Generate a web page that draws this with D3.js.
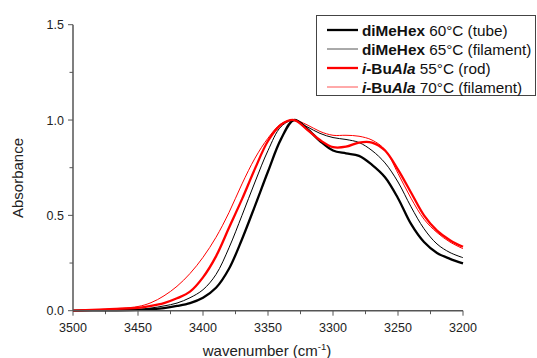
<!DOCTYPE html>
<html><head><meta charset="utf-8">
<script src="https://cdn.jsdelivr.net/npm/d3@7"></script>
<style>body{margin:0;background:#fff}svg{display:block;font-family:"Liberation Sans",Arial,sans-serif}</style>
</head><body><svg id="c" width="537" height="358"></svg>
<script>
const wavenumbers = [3500,3475,3450,3440,3430,3420,3410,3400,3390,3380,3370,3360,3350,3340,3330,3320,3310,3300,3290,3280,3270,3260,3250,3240,3230,3220,3210,3200];
const diMeHex60 = [0,0.002,0.004,0.008,0.014,0.025,0.04,0.068,0.12,0.22,0.375,0.55,0.73,0.9,1.0,0.955,0.89,0.84,0.825,0.812,0.765,0.70,0.59,0.455,0.36,0.303,0.272,0.248];
const diMeHex65 = [0,0.003,0.007,0.014,0.025,0.04,0.068,0.11,0.19,0.33,0.50,0.675,0.84,0.965,1.0,0.965,0.93,0.908,0.898,0.882,0.84,0.775,0.675,0.545,0.43,0.35,0.305,0.278];
const iBuAla55 = [0,0.007,0.015,0.025,0.04,0.065,0.10,0.175,0.285,0.435,0.585,0.745,0.89,0.975,1.0,0.95,0.895,0.858,0.86,0.882,0.882,0.84,0.74,0.62,0.50,0.42,0.37,0.335];
const iBuAla70 = [0,0.008,0.022,0.042,0.078,0.128,0.195,0.28,0.385,0.515,0.665,0.80,0.905,0.98,1.0,0.975,0.94,0.92,0.92,0.915,0.895,0.845,0.72,0.59,0.48,0.41,0.36,0.325];
const xTicks = [3500,3450,3400,3350,3300,3250,3200];
const yTicks = [0.0,0.5,1.0,1.5];

const series = [
  {vals: diMeHex60, color:"#000", w:2.3, name:[["diMeHex","bold",""],[" 60°C (tube)","normal",""]]},
  {vals: diMeHex65, color:"#000", w:1, lcolor:"#555", name:[["diMeHex","bold",""],[" 65°C (filament)","normal",""]]},
  {vals: iBuAla55, color:"#f00", w:2.3, name:[["i","bold","italic"],["-Bu","bold",""],["Ala","bold","italic"],[" 55°C (rod)","normal",""]]},
  {vals: iBuAla70, color:"#f00", w:1, lcolor:"#f55", name:[["i","bold","italic"],["-Bu","bold",""],["Ala","bold","italic"],[" 70°C (filament)","normal",""]]}
];

const svg = d3.select("#c");
const x = d3.scaleLinear().domain([3500,3200]).range([73,463]);
const y = d3.scaleLinear().domain([0,1.5]).range([310.7,24.7]);
const axCol = "#555";
const txtCol = "#222";

const xMinor = d3.range(3475,3200,-50);
const yMinor = [0.25,0.75,1.25];

const xa = svg.append("g").attr("transform","translate(0,310.7)");
xa.selectAll("line.mi").data(xMinor).join("line").attr("class","mi").attr("x1",d=>x(d)).attr("x2",d=>x(d)).attr("y1",0).attr("y2",3.5).attr("stroke",axCol);
xa.selectAll("line.ma").data(xTicks).join("line").attr("class","ma").attr("x1",d=>x(d)).attr("x2",d=>x(d)).attr("y1",0).attr("y2",5).attr("stroke",axCol);
xa.selectAll("text").data(xTicks).join("text").attr("x",d=>x(d)).attr("y",21).attr("text-anchor","middle").attr("font-size",12.5).attr("fill",txtCol).text(d=>d);

const ya = svg.append("g").attr("transform","translate(73,0)");
ya.selectAll("line.mi").data(yMinor).join("line").attr("class","mi").attr("y1",d=>y(d)).attr("y2",d=>y(d)).attr("x1",0).attr("x2",-3.5).attr("stroke",axCol);
ya.selectAll("line.ma").data(yTicks).join("line").attr("class","ma").attr("y1",d=>y(d)).attr("y2",d=>y(d)).attr("x1",0).attr("x2",-5).attr("stroke",axCol);
ya.selectAll("text").data(yTicks).join("text").attr("x",-9).attr("y",d=>y(d)+4.5).attr("text-anchor","end").attr("font-size",12.5).attr("fill",txtCol).text(d=>d.toFixed(1));

const line = d3.line().x((d,i)=>x(wavenumbers[i])).y(d=>y(d)).curve(d3.curveCatmullRom.alpha(0.5));
[1,3,0,2].forEach(k=>{
  const s = series[k];
  svg.append("path").attr("d",line(s.vals)).attr("fill","none").attr("stroke",s.color).attr("stroke-width",s.w).attr("stroke-linejoin","round");
});

svg.append("line").attr("x1",73).attr("x2",463).attr("y1",310.7).attr("y2",310.7).attr("stroke",axCol).attr("stroke-width",1.5);
svg.append("line").attr("x1",73).attr("x2",73).attr("y1",24.7).attr("y2",310.7).attr("stroke",axCol).attr("stroke-width",1.5);

svg.append("text").attr("transform","translate(23,178) rotate(-90)").attr("text-anchor","middle").attr("font-size",15).attr("fill",txtCol).text("Absorbance");
const xt = svg.append("text").attr("x",267).attr("y",356).attr("text-anchor","middle").attr("font-size",15).attr("fill",txtCol);
xt.append("tspan").text("wavenumber (cm");
xt.append("tspan").attr("font-size",9.5).attr("dy",-6).text("-1");
xt.append("tspan").attr("dy",6).text(")");

const lg = svg.append("g");
lg.append("rect").attr("x",316.5).attr("y",15.5).attr("width",219).attr("height",80).attr("fill","#fff").attr("stroke","#444").attr("stroke-width",1);
series.forEach((s,i)=>{
  const yy = 30 + i*19;
  lg.append("line").attr("x1",327).attr("x2",358).attr("y1",yy).attr("y2",yy).attr("stroke",s.lcolor||s.color).attr("stroke-width",s.w);
  const t = lg.append("text").attr("x",362).attr("y",yy+5.5).attr("font-size",15.3).attr("fill","#111");
  s.name.forEach(p=>t.append("tspan").attr("font-weight",p[1]).attr("font-style",p[2]||"normal").text(p[0]));
});
</script></body></html>
